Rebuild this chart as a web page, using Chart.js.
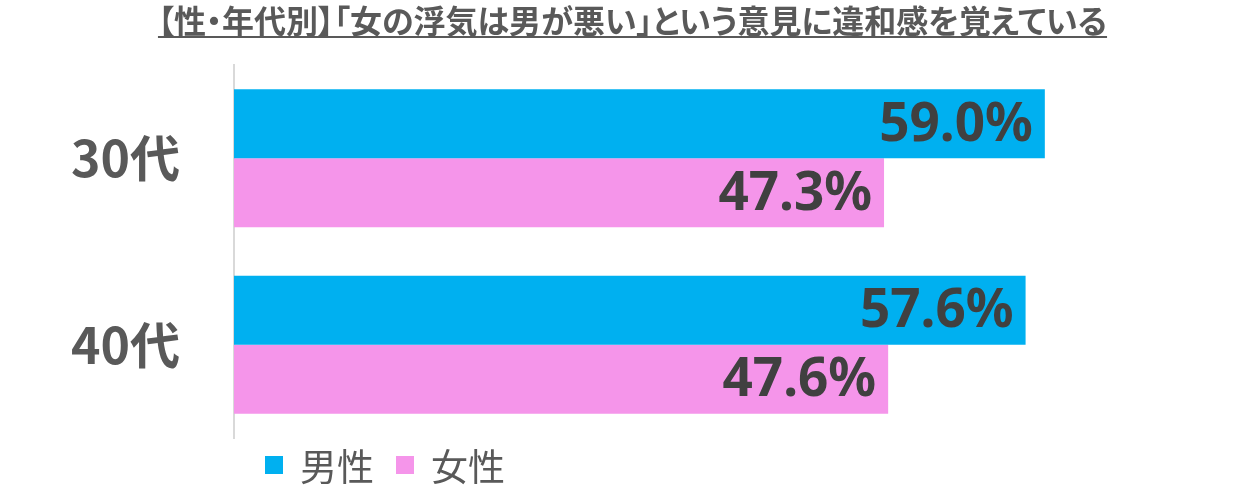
<!DOCTYPE html>
<html><head><meta charset="utf-8">
<script src="https://cdn.jsdelivr.net/npm/chart.js@4/dist/chart.umd.min.js"></script>
<style>
html,body{margin:0;padding:0;background:#fff;}
#wrap{position:relative;width:1237px;height:488px;}
canvas{display:block;}
#title{position:absolute;left:0;top:1px;width:1265px;text-align:center;font-family:"Noto Sans CJK JP";font-weight:bold;font-size:32px;font-feature-settings:"palt";color:#595959;text-decoration:underline;text-decoration-thickness:2px;text-underline-offset:3px;white-space:nowrap;line-height:36px;}
#legend{position:absolute;left:265px;top:445px;display:flex;align-items:center;font-family:"Noto Sans CJK JP";font-size:37px;color:#595959;line-height:40px;}
#legend .sw{display:inline-block;width:18px;height:18px;margin-right:17px;}
#legend .it{display:flex;align-items:center;margin-right:22px;}
</style></head>
<body><div id="wrap">
<canvas id="c" width="1237" height="488"></canvas>
<div id="title">【性・年代別】「女の浮気は男が悪い」という意見に違和感を覚えている</div>
<div id="legend"></div>
</div>
<script>
const categories = ["30代", "40代"];
const seriesNames = ["男性", "女性"];
const maleValues = [59.0, 57.6];
const femaleValues = [47.3, 47.6];
const colors = ["#00B0F0", "#F595EA"];

const valueLabels = {
  id: 'valueLabels',
  afterDatasetsDraw(chart) {
    const ctx = chart.ctx;
    ctx.save();
    ctx.font = 'bold 53px "Noto Sans"';
    ctx.fillStyle = '#404040';
    ctx.textAlign = 'right';
    ctx.textBaseline = 'middle';
    chart.data.datasets.forEach((ds, di) => {
      chart.getDatasetMeta(di).data.forEach((bar, i) => {
        ctx.fillText(ds.data[i].toFixed(1) + '%', bar.x - 12, bar.y + 2);
      });
    });
    ctx.restore();
  }
};

const chart = new Chart(document.getElementById('c'), {
  type: 'bar',
  data: {
    labels: categories,
    datasets: [
      { label: seriesNames[0], data: maleValues, backgroundColor: colors[0] },
      { label: seriesNames[1], data: femaleValues, backgroundColor: colors[1] }
    ]
  },
  options: {
    indexAxis: 'y',
    responsive: false,
    animation: false,
    devicePixelRatio: 1,
    layout: { padding: { top: 65, bottom: 50, right: 41, left: 0 } },
    categoryPercentage: 0.74,
    barPercentage: 1.0,
    plugins: { legend: { display: false }, tooltip: { enabled: false } },
    scales: {
      x: { min: 0, max: 70, display: false },
      y: {
        grid: { display: false, drawTicks: false },
        border: { display: true, color: '#D9D9D9', width: 2 },
        ticks: { color: '#595959', font: { family: '"Noto Sans CJK JP"', weight: 'bold', size: 50 }, padding: 54 },
        afterFit(scale) { scale.width = 234; scale.paddingTop = 0; scale.paddingBottom = 0; }
      }
    }
  },
  plugins: [valueLabels]
});

const lg = document.getElementById('legend');
chart.data.datasets.forEach(ds => {
  const it = document.createElement('span'); it.className = 'it';
  const sw = document.createElement('span'); sw.className = 'sw'; sw.style.background = ds.backgroundColor;
  it.appendChild(sw); it.appendChild(document.createTextNode(ds.label));
  lg.appendChild(it);
});
</script>
</body></html>
